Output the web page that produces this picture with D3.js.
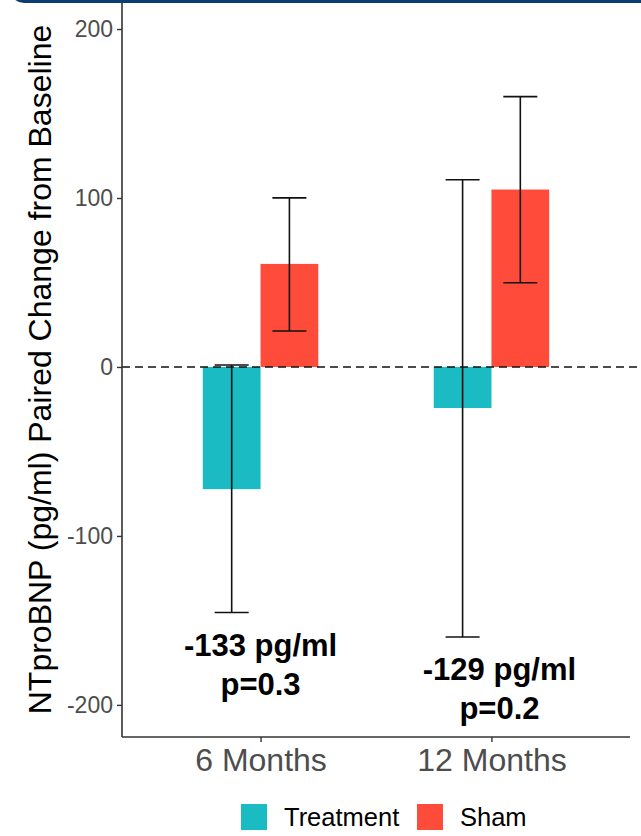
<!DOCTYPE html>
<html>
<head>
<meta charset="utf-8">
<script src="https://cdn.jsdelivr.net/npm/d3@7"></script>
<style>
  html, body { margin: 0; padding: 0; background: #ffffff; }
  svg { display: block; font-family: "Liberation Sans", Arial, sans-serif; }
</style>
</head>
<body>
<svg id="chart" width="641" height="836"></svg>
<script>
// Time points and groups
const categories = ["6 Months", "12 Months"];
const groups = ["Treatment", "Sham"];
const groupColors = ["#1abbc3", "#ff4b3a"];

// Mean paired change and error-bar limits (pg/ml)
const treatmentMean  = [-72.3, -24.3];
const treatmentLower = [-145.3, -159.8];
const treatmentUpper = [1.2, 110.8];
const shamMean  = [61.0, 105.0];
const shamLower = [21.3, 49.8];
const shamUpper = [100.1, 160.0];

// Between-group difference annotations
const diffLabels = ["-133 pg/ml", "-129 pg/ml"];
const pLabels = ["p=0.3", "p=0.2"];
const diffLabelY = [-171, -185];

const yTicks = [-200, -100, 0, 100, 200];
const yDomain = [-219, 216];

const svg = d3.select("#chart");

// Plot panel geometry
const panelLeft = 122, panelRight = 630, panelTop = 2, panelBottom = 737;

const x = d3.scalePoint().domain(categories).range([panelLeft, panelRight]).padding(0.6);
const step = x.step();
const xGroup = d3.scaleBand().domain(groups).range([-0.25 * step, 0.25 * step]);
const y = d3.scaleLinear().domain(yDomain).range([panelBottom, panelTop]);

const series = [
  { group: "Treatment", mean: treatmentMean, lo: treatmentLower, hi: treatmentUpper },
  { group: "Sham", mean: shamMean, lo: shamLower, hi: shamUpper }
];
const rows = [];
series.forEach((s, si) => {
  categories.forEach((c, ci) => {
    rows.push({ cat: c, group: s.group, color: groupColors[si], mean: s.mean[ci], lo: s.lo[ci], hi: s.hi[ci] });
  });
});

// Bars
svg.append("g").selectAll("rect").data(rows).join("rect")
  .attr("x", d => x(d.cat) + xGroup(d.group))
  .attr("width", xGroup.bandwidth())
  .attr("y", d => y(Math.max(0, d.mean)))
  .attr("height", d => Math.abs(y(d.mean) - y(0)))
  .attr("fill", d => d.color);

// Zero reference line
svg.append("line")
  .attr("x1", panelLeft).attr("x2", 641)
  .attr("y1", y(0)).attr("y2", y(0))
  .attr("stroke", "#111").attr("stroke-width", 1.6)
  .attr("stroke-dasharray", "8,5");

// Error bars
const whisker = 17;
const eb = svg.append("g").attr("stroke", "#111").attr("stroke-width", 1.6).attr("fill", "none");
rows.forEach(d => {
  const cx = x(d.cat) + xGroup(d.group) + xGroup.bandwidth() / 2;
  eb.append("line").attr("x1", cx).attr("x2", cx).attr("y1", y(d.lo)).attr("y2", y(d.hi));
  eb.append("line").attr("x1", cx - whisker).attr("x2", cx + whisker).attr("y1", y(d.lo)).attr("y2", y(d.lo));
  eb.append("line").attr("x1", cx - whisker).attr("x2", cx + whisker).attr("y1", y(d.hi)).attr("y2", y(d.hi));
});

// Axes
const yAxis = svg.append("g").attr("transform", `translate(${panelLeft},0)`)
  .call(d3.axisLeft(y).tickValues(yTicks).tickSize(5).tickPadding(4).tickFormat(d => String(d)));
const xAxis = svg.append("g").attr("transform", `translate(0,${panelBottom})`)
  .call(d3.axisBottom(x).tickSize(5).tickPadding(3));
[yAxis, xAxis].forEach(a => {
  a.select(".domain").attr("stroke", "#333").attr("stroke-width", 1.6);
  a.selectAll(".tick line").attr("stroke", "#333").attr("stroke-width", 1.4);
  a.selectAll(".tick text").attr("fill", "#4d4d4d").attr("font-family", "Liberation Sans, Arial, sans-serif");
});
yAxis.select(".domain").attr("d", `M0,${panelTop}V${panelBottom}`);
xAxis.select(".domain").attr("d", `M${panelLeft},0H${panelRight}`);
yAxis.selectAll(".tick text").attr("font-size", 23);
xAxis.selectAll(".tick text").attr("font-size", 32).attr("dy", "0.8em");

// Y axis title
svg.append("text")
  .attr("transform", `translate(51,${(panelTop + panelBottom) / 2}) rotate(-90)`)
  .attr("text-anchor", "middle")
  .attr("font-size", 32)
  .attr("fill", "#000")
  .text("NTproBNP (pg/ml) Paired Change from Baseline");

// Difference annotations
const ann = svg.append("g").attr("font-weight", "bold").attr("font-size", 31).attr("text-anchor", "middle").attr("fill", "#000");
categories.forEach((c, i) => {
  const cx = x(c) + (i === 1 ? 8 : 0);
  ann.append("text").attr("x", cx).attr("y", y(diffLabelY[i])).text(diffLabels[i]);
  ann.append("text").attr("x", cx).attr("y", y(diffLabelY[i]) + 39).text(pLabels[i]);
});

// Legend
const legend = svg.append("g").attr("transform", "translate(241,804)");
const legendOffsets = [0, 176];
groups.forEach((g, i) => {
  const item = legend.append("g").attr("transform", `translate(${legendOffsets[i]},0)`);
  item.append("rect").attr("width", 26).attr("height", 26).attr("fill", groupColors[i]);
  item.append("text").attr("x", 43).attr("y", 22).attr("font-size", 25.5).attr("fill", "#000").text(g);
});

// Top frame edge
svg.append("rect")
  .attr("x", 10).attr("y", -30).attr("width", 660).attr("height", 33)
  .attr("rx", 14).attr("fill", "#0c3d72");
</script>
</body>
</html>
